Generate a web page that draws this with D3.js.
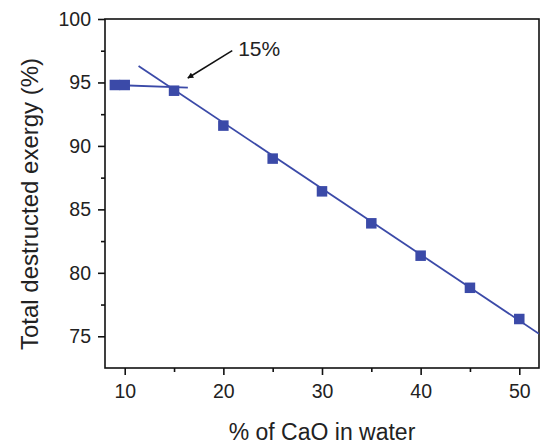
<!DOCTYPE html>
<html>
<head>
<meta charset="utf-8">
<script src="https://cdn.jsdelivr.net/npm/d3@7"></script>
<style>
  body { margin: 0; background: #fff; }
  svg { display: block; font-family: Arial, "Liberation Sans", sans-serif; }
</style>
</head>
<body>
<div id="chart"></div>
<script>
// measured points
const cao = [9, 10, 15, 20, 25, 30, 35, 40, 45, 50];
const exergy = [94.8, 94.8, 94.35, 91.6, 89.0, 86.42, 83.9, 81.35, 78.82, 76.36];

// hand-drawn guide lines
const fitX = [11.4, 52];
const fitY = [96.3, 75.2];
const flatX = [9, 16.4];
const flatY = [94.8, 94.6];
const arrowX = [20.9, 16.4];
const arrowY = [97.5, 95.35];
const noteX = 21.5;
const noteY = 97.06;
const noteText = "15%";

const xTicks = [10, 20, 30, 40, 50];
const yTicks = [75, 80, 85, 90, 95, 100];

const W = 541, H = 444;
const margin = { top: 19, right: 2, bottom: 76, left: 105 };
const width = W - margin.left - margin.right;
const height = H - margin.top - margin.bottom;
const blue = "#3b4aa8";

const svg = d3.select("#chart").append("svg")
  .attr("width", W).attr("height", H);

const g = svg.append("g")
  .attr("transform", `translate(${margin.left},${margin.top})`);

const x = d3.scaleLinear().domain([8, 52]).range([0, width]);
const y = d3.scaleLinear().domain([72.5, 100]).range([height, 0]);

// minor ticks first so major ticks draw on top
g.append("g")
  .attr("transform", `translate(0,${height})`)
  .call(d3.axisBottom(x).tickValues([15, 25, 35, 45]).tickSize(4).tickFormat(""))
  .call(a => a.select(".domain").remove());
g.append("g")
  .call(d3.axisLeft(y).tickValues([77.5, 82.5, 87.5, 92.5, 97.5]).tickSize(4).tickFormat(""))
  .call(a => a.select(".domain").remove());

const xAxis = g.append("g")
  .attr("transform", `translate(0,${height})`)
  .call(d3.axisBottom(x).tickValues(xTicks).tickSize(7).tickPadding(9));
xAxis.selectAll("text").attr("font-size", 19.5).attr("fill", "#222")
  .attr("font-family", "Arial, 'Liberation Sans', sans-serif");

const yAxis = g.append("g")
  .call(d3.axisLeft(y).tickValues(yTicks).tickSize(7).tickPadding(7));
yAxis.selectAll("text").attr("font-size", 19.5).attr("fill", "#222")
  .attr("font-family", "Arial, 'Liberation Sans', sans-serif");

g.selectAll(".tick line").attr("stroke", "#111").attr("stroke-width", 1.6);
g.selectAll(".domain").remove();

// frame
g.append("rect")
  .attr("width", width).attr("height", height)
  .attr("fill", "none").attr("stroke", "#111").attr("stroke-width", 1.6);

g.append("clipPath").attr("id", "clip")
  .append("rect").attr("width", width).attr("height", height);

const line = d3.line().x(d => x(d[0])).y(d => y(d[1]));

g.append("path")
  .datum(d3.zip(fitX, fitY))
  .attr("clip-path", "url(#clip)")
  .attr("d", line)
  .attr("fill", "none").attr("stroke", blue).attr("stroke-width", 1.8);

g.append("path")
  .datum(d3.zip(flatX, flatY))
  .attr("d", line)
  .attr("fill", "none").attr("stroke", blue).attr("stroke-width", 1.8);

const sz = 10.5;
g.selectAll("rect.pt")
  .data(d3.zip(cao, exergy))
  .join("rect")
  .attr("class", "pt")
  .attr("x", d => x(d[0]) - sz / 2)
  .attr("y", d => y(d[1]) - sz / 2)
  .attr("width", sz).attr("height", sz)
  .attr("fill", blue);

// arrow to the break point
svg.append("defs").append("marker")
  .attr("id", "head")
  .attr("viewBox", "0 0 10 10")
  .attr("refX", 9).attr("refY", 5)
  .attr("markerWidth", 7).attr("markerHeight", 6)
  .attr("markerUnits", "userSpaceOnUse")
  .attr("orient", "auto")
  .append("path")
  .attr("d", "M0,0 L10,5 L0,10 Z")
  .attr("fill", "#111");

g.append("path")
  .datum(d3.zip(arrowX, arrowY))
  .attr("d", line)
  .attr("fill", "none").attr("stroke", "#111").attr("stroke-width", 1.5)
  .attr("marker-end", "url(#head)");

g.append("text")
  .attr("x", x(noteX)).attr("y", y(noteY))
  .attr("font-size", 21).attr("fill", "#222")
  .text(noteText);

// axis titles
svg.append("text")
  .attr("x", margin.left + x(30)).attr("y", 440)
  .attr("text-anchor", "middle")
  .attr("font-size", 23).attr("fill", "#222")
  .text("% of CaO in water");

svg.append("text")
  .attr("transform", `translate(38,${margin.top + 185}) rotate(-90)`)
  .attr("text-anchor", "middle")
  .attr("font-size", 24).attr("fill", "#222")
  .text("Total destructed exergy (%)");
</script>
</body>
</html>
